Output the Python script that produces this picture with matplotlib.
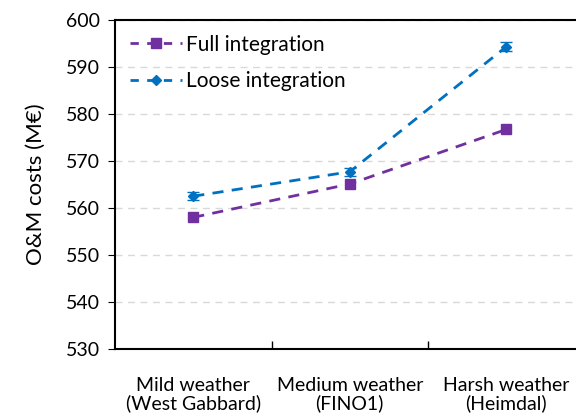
import numpy as np
import matplotlib
matplotlib.use('Agg')
import matplotlib.pyplot as plt
from matplotlib.lines import Line2D

# Costes de O&M por escenario meteorológico
categorias = ['Mild weather\n(West Gabbard)', 'Medium weather\n(FINO1)', 'Harsh weather\n(Heimdal)']
full_integration = [558.0, 565.1, 576.7]
full_err = [0.3, 0.3, 0.3]
loose_integration = [562.5, 567.7, 594.3]
loose_err = [0.8, 0.8, 1.0]
yticks = [530, 540, 550, 560, 570, 580, 590, 600]

plt.rcParams['font.family'] = ['Lato', 'DejaVu Sans']

fig = plt.figure(figsize=(5.76, 4.15), dpi=100)
ax = fig.add_axes([0.1997, 0.159, 0.815, 0.793])

x = np.arange(len(categorias))
morado = '#7030A0'
azul = '#0070C0'

ax.errorbar(x, full_integration, yerr=full_err, color=morado, linestyle='--',
            linewidth=2, dashes=(4, 3), marker='s', markersize=7, capsize=3,
            elinewidth=1, zorder=3)
ax.errorbar(x, loose_integration, yerr=loose_err, color=azul, linestyle='--',
            linewidth=2, dashes=(4, 3), marker='D', markersize=5, capsize=4,
            elinewidth=1, zorder=3)

ax.set_xlim(-0.5, 2.5)
ax.set_ylim(530, 600)
ax.set_yticks(yticks)
ax.set_xticks(x)
ax.set_xticklabels(categorias, fontsize=14, linespacing=1.05)
ax.tick_params(axis='x', length=0, pad=20)
ax.set_xticks([0.5, 1.5], minor=True)
ax.tick_params(axis='x', which='minor', direction='in', length=6, width=1)
ax.tick_params(axis='y', direction='out', length=5, labelsize=14, pad=6)

ax.yaxis.grid(True, linestyle=(0, (5, 4)), color='#D9D9D9', linewidth=1)
ax.set_axisbelow(True)

for s in ax.spines.values():
    s.set_linewidth(1.5)
    s.set_color('black')

ax.set_ylabel('O&M costs (M€)', fontsize=16, labelpad=14)

# Leyenda sin barras de error
handles = [
    Line2D([], [], color=morado, linestyle='--', dashes=(3, 3), linewidth=2,
           marker='s', markersize=7),
    Line2D([], [], color=azul, linestyle='--', dashes=(3, 3), linewidth=2,
           marker='D', markersize=5),
]
ax.legend(handles, ['Full integration', 'Loose integration'], loc='upper left',
          frameon=False, fontsize=15, handlelength=2.5, borderaxespad=0.3,
          labelspacing=0.8, handletextpad=0.2)

fig.savefig('out.png', dpi=100)
